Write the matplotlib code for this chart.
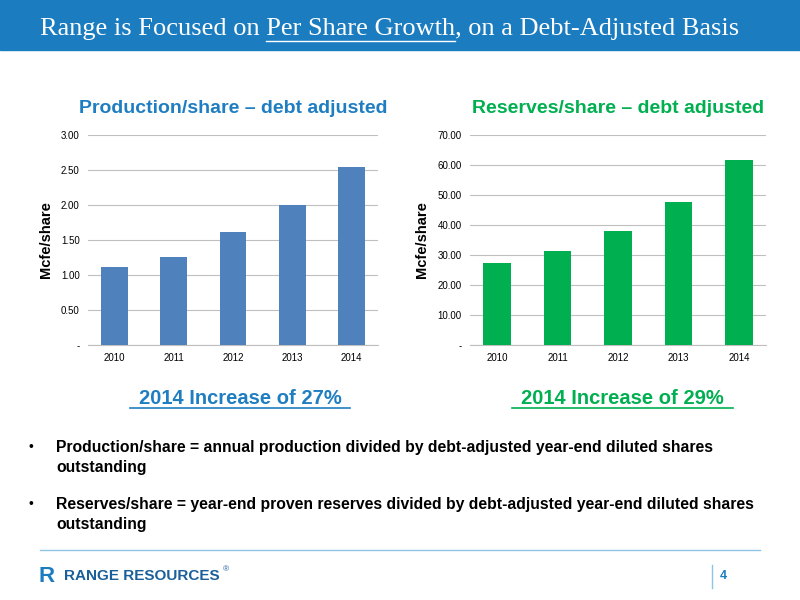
import matplotlib.pyplot as plt
from matplotlib.patches import Rectangle

plt.rcParams['font.family'] = ['Liberation Sans', 'DejaVu Sans']

years = ["2010", "2011", "2012", "2013", "2014"]
prod_share = [1.11, 1.26, 1.61, 2.00, 2.54]
res_share = [27.3, 31.5, 38.1, 47.8, 61.8]

BLUE = "#4f81bd"
GREEN = "#00b050"
TBLUE = "#1f7ec1"
SERIF = "Liberation Serif"
TSIZE = 19

fig = plt.figure(figsize=(8, 6), dpi=100)

# header band
fig.patches.append(Rectangle((0, 1 - 50/600), 1, 50/600, transform=fig.transFigure,
                             color="#1b7cc0", zorder=0))
fig.text(0.05, 1 - 29/600, "Range is Focused on Per Share Growth, on a Debt-Adjusted Basis",
         color="white", fontsize=TSIZE, family=SERIF, va="center")


def bar_panel(rect, vals, color, ymax, step, fmt, title, title_color):
    ax = fig.add_axes(rect)
    ax.bar(years, vals, width=0.45, color=color, zorder=3)
    ticks = [i * step for i in range(int(round(ymax / step)) + 1)]
    ax.set_ylim(0, ymax)
    ax.set_yticks(ticks)
    ax.set_yticklabels(["-"] + [fmt.format(t) for t in ticks[1:]])
    ax.grid(axis="y", color="#bfbfbf", lw=0.8, zorder=0)
    for s in ["top", "right", "left"]:
        ax.spines[s].set_visible(False)
    ax.spines["bottom"].set_color("#bfbfbf")
    ax.tick_params(axis="both", length=0, labelsize=7, pad=6)
    ax.set_ylabel("Mcfe/share", fontsize=10.5, fontweight="bold", labelpad=6)
    ax.set_title(title, color=title_color, fontsize=14, fontweight="bold", pad=16)
    return ax


bar_panel([0.11, 0.425, 0.3625, 0.35], prod_share, BLUE, 3.0, 0.5, "{:.2f}",
          "Production/share \u2013 debt adjusted", TBLUE)
bar_panel([0.5875, 0.425, 0.37, 0.35], res_share, GREEN, 70.0, 10.0, "{:.2f}",
          "Reserves/share \u2013 debt adjusted", GREEN)

# increase labels with underline
for x, txt, c in [(0.30, "2014 Increase of 27%", TBLUE), (0.778, "2014 Increase of 29%", GREEN)]:
    fig.text(x, 1 - 398/600, txt, color=c, fontsize=14.5, fontweight="bold",
             ha="center", va="center")
    fig.add_artist(plt.Line2D([x - 0.138, x + 0.138], [1 - 408/600] * 2, color=c, lw=1.2))

bullets = [
    (440, "Production/share = annual production divided by debt-adjusted year-end diluted shares\noutstanding"),
    (497, "Reserves/share = year-end proven reserves divided by debt-adjusted year-end diluted shares\noutstanding"),
]
for y, txt in bullets:
    fig.text(0.035, 1 - y/600, "\u2022", fontsize=10, va="top")
    fig.text(0.07, 1 - y/600, txt, fontsize=11.3, fontweight="bold", va="top", linespacing=1.4)

fig.add_artist(plt.Line2D([0.05, 0.95], [1 - 550/600] * 2, color="#8fc3e6", lw=1))
fig.text(0.048, 1 - 576/600, "R", color="#1b7cc0", fontsize=16, fontweight="bold", va="center")
fig.text(0.08, 1 - 576/600, "RANGE RESOURCES", color="#1b5f9a", fontsize=11,
         fontweight="bold", va="center")
fig.text(0.278, 1 - 570/600, "\u00ae", color="#1b5f9a", fontsize=6, va="center")
fig.add_artist(plt.Line2D([0.89, 0.89], [1 - 588/600, 1 - 565/600], color="#8fc3e6", lw=1))
fig.text(0.9, 1 - 576/600, "4", color="#1b7cc0", fontsize=9, fontweight="bold", va="center")

# underline "Per Share Growth" in the title
fig.canvas.draw()
r = fig.canvas.get_renderer()
pre = fig.text(0.05, 0, "Range is Focused on ", fontsize=TSIZE, family=SERIF, alpha=0)
mid = fig.text(0.05, 0, "Range is Focused on Per Share Growth", fontsize=TSIZE,
               family=SERIF, alpha=0)
x0 = pre.get_window_extent(r).x1 / fig.bbox.width
x1 = mid.get_window_extent(r).x1 / fig.bbox.width
fig.add_artist(plt.Line2D([x0, x1], [1 - 41/600] * 2, color="white", lw=1))

fig.savefig("out.png", dpi=100)
